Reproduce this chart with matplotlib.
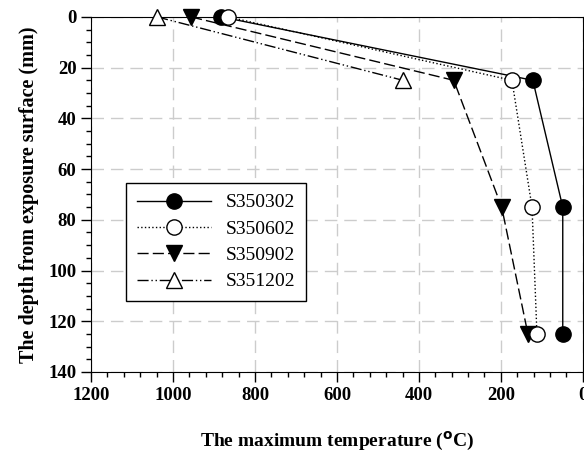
import matplotlib.pyplot as plt
from matplotlib.ticker import MultipleLocator

plt.rcParams['font.family'] = ['Liberation Serif', 'DejaVu Serif']

# depth (mm) and max temperature (C) for each specimen
depth = [0, 25, 75, 125]
s350302 = [882, 122, 49, 49]
s350602 = [866, 173, 124, 112]
s350902 = [956, 315, 198, 134]
depth_1202 = [0, 25]
s351202 = [1039, 439]

fig = plt.figure(figsize=(5.84, 4.57), dpi=100)
ax = fig.add_axes([0.156, 0.186, 0.842, 0.777])

ms = 11
ax.plot(s350302, depth, color='black', lw=1, ls='-', marker='o', ms=ms,
        mfc='black', mec='black', label='S350302', clip_on=False, zorder=5)
ax.plot(s350602, depth, color='black', lw=1, ls=':', marker='o', ms=ms,
        mfc='white', mec='black', label='S350602', clip_on=False, zorder=6)
ax.plot(s350902, depth, color='black', lw=1, ls=(0, (8, 3)), marker='v', ms=ms,
        mfc='black', mec='black', label='S350902', clip_on=False, zorder=5)
ax.plot(s351202, depth_1202, color='black', lw=1, ls=(0, (8, 2, 1, 2, 1, 2)), marker='^', ms=ms,
        mfc='white', mec='black', label='S351202', clip_on=False, zorder=5)

ax.set_xlim(1200, 0)
ax.set_ylim(140, 0)
ax.xaxis.set_major_locator(MultipleLocator(200))
ax.xaxis.set_minor_locator(MultipleLocator(40))
ax.yaxis.set_major_locator(MultipleLocator(20))
ax.yaxis.set_minor_locator(MultipleLocator(5))
ax.tick_params(which='major', direction='out', length=7, width=1, labelsize=13.5)
ax.tick_params(which='minor', direction='out', length=3.5, width=1)
for lab in ax.get_xticklabels() + ax.get_yticklabels():
    lab.set_fontweight('bold')

ax.grid(True, which='major', color='#cccccc', ls=(0, (9, 5)), lw=1)
ax.set_axisbelow(True)

ax.set_xlabel('The maximum temperature ($\\mathbf{^{o}}$C)', fontsize=14,
              fontweight='bold', labelpad=19)
ax.set_ylabel('The depth from exposure surface (mm)', fontsize=14.5,
              fontweight='bold', labelpad=7)

leg = ax.legend(loc='upper left', bbox_to_anchor=(0.071, 0.532), borderaxespad=0,
                fancybox=False, edgecolor='black', fontsize=14, handlelength=3.8,
                handletextpad=0.8, labelspacing=0.45, borderpad=0.55, framealpha=1)
leg.get_frame().set_linewidth(1)

fig.savefig('out.png', dpi=100)
